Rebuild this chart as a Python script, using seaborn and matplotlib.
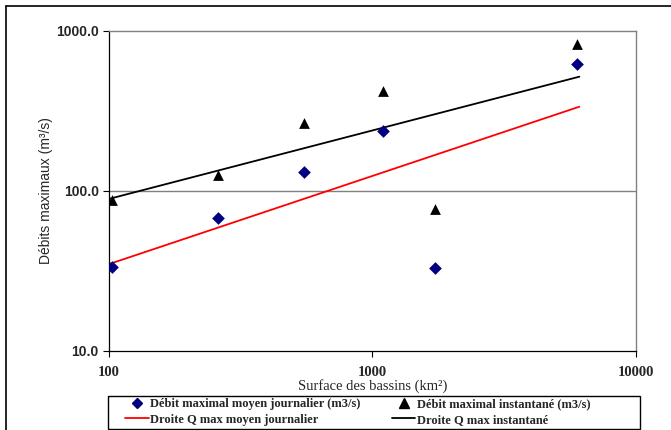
import numpy as np
import pandas as pd
import matplotlib
matplotlib.use("Agg")
import matplotlib.pyplot as plt
from matplotlib.lines import Line2D
from matplotlib.patches import Rectangle
import seaborn as sns

# Basin data
surface = [103, 259, 552, 1100, 1735, 5985]
q_journalier = [33.2, 67.2, 131.5, 236, 32.7, 617]
q_instantane = [87.5, 125.4, 266, 422, 76.8, 822]

# Trend lines (power law, straight in log-log)
droite_x = [100, 6100]
droite_journalier = [34.7, 335]
droite_instantane = [88.7, 516]

x_ticks = [100, 1000, 10000]
x_labels = ["100", "1000", "10000"]
y_ticks = [10, 100, 1000]
y_labels = ["10.0", "100.0", "1000.0"]

sns.set_style("white")
plt.rcParams['font.family'] = ['Liberation Sans', 'DejaVu Sans']

df_pts = pd.DataFrame({"surface": surface, "journalier": q_journalier, "instantane": q_instantane})
df_line = pd.DataFrame({"x": droite_x, "journalier": droite_journalier, "instantane": droite_instantane})

fig = plt.figure(figsize=(6.71, 4.30), dpi=100)
ax = fig.add_axes([0.1617, 0.1844, 0.7861, 0.7442])

sns.lineplot(data=df_line, x="x", y="journalier", color="#ff0000", lw=1.3, ax=ax, zorder=2)
sns.lineplot(data=df_line, x="x", y="instantane", color="black", lw=1.3, ax=ax, zorder=2)
sns.scatterplot(data=df_pts, x="surface", y="journalier", marker="D", color="#000080",
                s=42, edgecolor="#000080", linewidth=0, ax=ax, zorder=3)
sns.scatterplot(data=df_pts, x="surface", y="instantane", marker="^", color="black",
                s=60, edgecolor="black", linewidth=0, ax=ax, zorder=3)

ax.set_xscale("log")
ax.set_yscale("log")
ax.set_xlim(100, 10000)
ax.set_ylim(10, 1000)
ax.set_xticks(x_ticks)
ax.set_xticklabels(x_labels, family="Liberation Serif", fontweight="bold", fontsize=10.5)
ax.set_yticks(y_ticks)
ax.set_yticklabels(y_labels, fontweight="bold", fontsize=10)
ax.minorticks_off()
ax.tick_params(axis="both", which="major", direction="out", length=4, width=0.8,
               color="black", bottom=True, left=True)
ax.tick_params(axis="x", pad=7)
ax.tick_params(axis="y", pad=3)

ax.axhline(100, color="#808080", lw=1, zorder=1)
for side in ["top", "right"]:
    ax.spines[side].set_color("#808080")
    ax.spines[side].set_linewidth(1)
for side in ["left", "bottom"]:
    ax.spines[side].set_color("black")
    ax.spines[side].set_linewidth(0.9)

ax.set_xlabel("Surface des bassins (km²)", family="Liberation Serif", fontsize=10.5, labelpad=0)
ax.set_ylabel("Débits maximaux (m³/s)", fontsize=10, labelpad=2)

handles = [
    Line2D([], [], marker="D", color="#000080", ls="none", markersize=5.5),
    Line2D([], [], color="#ff0000", lw=1.3),
    Line2D([], [], marker="^", color="black", ls="none", markersize=6.5),
    Line2D([], [], color="black", lw=1.3),
]
labels = [
    "Débit maximal moyen journalier (m3/s)",
    "Droite Q max moyen journalier",
    "Débit maximal instantané (m3/s)",
    "Droite Q max instantané",
]
leg = fig.legend(handles, labels, ncol=2, loc="upper left",
                 bbox_to_anchor=(125 / 671, 1 - 398 / 430),
                 prop={"family": "Liberation Serif", "weight": "bold", "size": 9},
                 frameon=False, borderpad=0, labelspacing=0.3,
                 handlelength=1.9, handletextpad=0.1, columnspacing=2.5, borderaxespad=0)

# legend frame
fig.add_artist(Rectangle((108 / 671, 1 - 429 / 430), 532 / 671, 33 / 430,
                         transform=fig.transFigure, fill=False, edgecolor="black", lw=1))

# outer frame lines of the original sheet
fig.add_artist(Line2D([0.0082, 0.0082], [0, 0.985], color="black", lw=1.2))
fig.add_artist(Line2D([0.0082, 1], [0.985, 0.985], color="black", lw=1.2))

fig.savefig("out.png", dpi=100)
